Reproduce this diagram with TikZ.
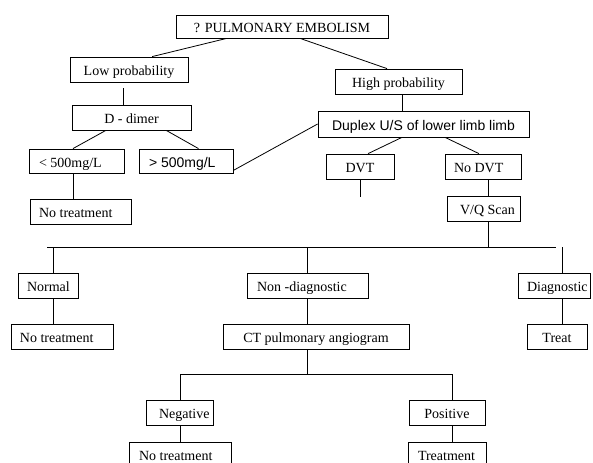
\documentclass[tikz,border=0pt]{standalone}
\usepackage{fontspec}
\setmainfont{Liberation Serif}
\newfontfamily\sansarial{Liberation Sans}
\usetikzlibrary{calc}
\newcommand\bx[8]{%
  \pgfmathsetmacro\bxh{(#5-#3)*0.75}%
  \pgfmathsetmacro\bxw{(#4-#2-2*#6)*0.75}%
  \pgfmathsetmacro\bxp{#6*0.75}%
  \node[box, minimum height=\bxh pt, inner xsep=\bxp pt]
    (#1) at ({(#2+#4)/2},{(#3+#5)/2}) {\makebox[\bxw pt][#7]{#8}};}
\begin{document}
\begin{tikzpicture}[x=0.75pt, y=-0.75pt,
  box/.style={draw, line width=0.6pt, inner ysep=0pt, text height=9.3pt, text depth=0pt,
    font=\fontsize{10.5}{12}\selectfont},
  conn/.style={draw, line width=0.6pt}]
\clip (0,0) rectangle (593,463);
\fill[white] (0,0) rectangle (593,463);
% boxes
\bx{pe}{176}{15}{388}{38}{2}{c}{? PULMONARY EMBOLISM}
\bx{low}{70}{57}{188}{82}{2}{c}{Low probability}
\bx{dd}{72}{105}{191}{130}{2}{c}{D - dimer}
\bx{lt}{29}{149}{124}{173}{10}{l}{< 500mg/L}
\bx{gt}{139}{149}{233}{173}{10}{l}{\sansarial > 500mg/L}
\bx{nta}{30}{199}{131}{224}{9}{l}{No treatment}
\bx{high}{335}{69}{462}{94}{2}{c}{High probability}
\bx{dup}{318}{111}{529}{137}{2}{c}{\sansarial Duplex U/S of lower limb limb}
\bx{dvt}{326}{154}{394}{179}{2}{c}{DVT}
\bx{nodvt}{445}{154}{521}{179}{9}{l}{No DVT}
\bx{vq}{447}{196}{520}{221}{13}{l}{V/Q Scan}
\bx{normal}{18}{273}{78}{298}{9}{l}{Normal}
\bx{ntb}{11}{324}{113}{349}{9}{l}{No treatment}
\bx{nond}{247}{273}{368}{298}{10}{l}{Non -diagnostic}
\bx{ct}{223}{324}{409}{349}{2}{c}{CT pulmonary angiogram}
\bx{diag}{518}{273}{590}{298}{9}{l}{Diagnostic}
\bx{treat}{527}{324}{587}{349}{2}{c}{Treat}
\bx{neg}{146}{400}{213}{425}{13}{l}{Negative}
\bx{pos}{409}{400}{485}{425}{2}{c}{Positive}
\bx{ntc}{129}{442}{231}{467}{10}{l}{No treatment}
\bx{tmt}{408}{442}{486}{467}{10}{l}{Treatment}
% bus coordinates
\coordinate (busL) at (47,247);
\coordinate (busR) at (556,247);
\coordinate (busbL) at (180,374);
\coordinate (busbR) at (452,374);
\coordinate (dvtend) at (360,197);
% connectors
\path[conn] ($(pe.south west)!0.24!(pe.south east)$) -- ($(low.north west)!0.695!(low.north east)$);
\path[conn] ($(pe.south west)!0.585!(pe.south east)$) -- ($(high.north west)!0.41!(high.north east)$);
\path[conn] ($(low.south west)!0.449!(low.south east)+(0,6)$) coordinate (t1) -- (t1 |- dd.north);
\path[conn] ($(dd.south west)!0.286!(dd.south east)$) -- ($(lt.north west)!0.463!(lt.north east)$);
\path[conn] ($(dd.south west)!0.79!(dd.south east)$) -- ($(gt.north west)!0.632!(gt.north east)$);
\path[conn] ($(lt.south west)!0.463!(lt.south east)$) coordinate (t2) -- (t2 |- nta.north);
\path[conn] ($(gt.south east)+(0,-3)$) -- (dup.west);
\path[conn] ($(high.south west)!0.528!(high.south east)$) coordinate (t3) -- (t3 |- dup.north);
\path[conn] ($(dup.south west)!0.398!(dup.south east)$) -- ($(dvt.north west)!0.618!(dvt.north east)$);
\path[conn] ($(dup.south west)!0.602!(dup.south east)$) -- ($(nodvt.north west)!0.447!(nodvt.north east)$);
\path[conn] (dvt.south) -- (dvt.south |- dvtend);
\path[conn] ($(nodvt.south west)!0.566!(nodvt.south east)$) coordinate (t4) -- (t4 |- vq.north);
\path[conn] ($(vq.south west)!0.562!(vq.south east)$) coordinate (t5) -- (t5 |- busL);
\path[conn] (busL) -- (busR);
\path[conn] ($(normal.north west)!0.583!(normal.north east)$) coordinate (t6) -- (t6 |- busL);
\path[conn] ($(nond.north west)!0.496!(nond.north east)$) coordinate (t7) -- (t7 |- busL);
\path[conn] ($(diag.north west)!0.611!(diag.north east)$) coordinate (t8) -- (t8 |- busL);
\path[conn] ($(normal.south west)!0.583!(normal.south east)$) coordinate (t9) -- (t9 |- ntb.north);
\path[conn] ($(nond.south west)!0.496!(nond.south east)$) coordinate (t10) -- (t10 |- ct.north);
\path[conn] ($(diag.south west)!0.611!(diag.south east)$) coordinate (t11) -- (t11 |- treat.north);
\path[conn] ($(ct.south west)!0.452!(ct.south east)$) coordinate (t12) -- (t12 |- busbL);
\path[conn] (busbL) -- (busbR);
\path[conn] ($(neg.north west)!0.507!(neg.north east)$) coordinate (t13) -- (t13 |- busbL);
\path[conn] ($(pos.north west)!0.566!(pos.north east)$) coordinate (t14) -- (t14 |- busbR);
\path[conn] ($(neg.south west)!0.507!(neg.south east)$) coordinate (t15) -- (t15 |- ntc.north);
\path[conn] ($(pos.south west)!0.566!(pos.south east)$) coordinate (t16) -- (t16 |- tmt.north);
\end{tikzpicture}
\end{document}
